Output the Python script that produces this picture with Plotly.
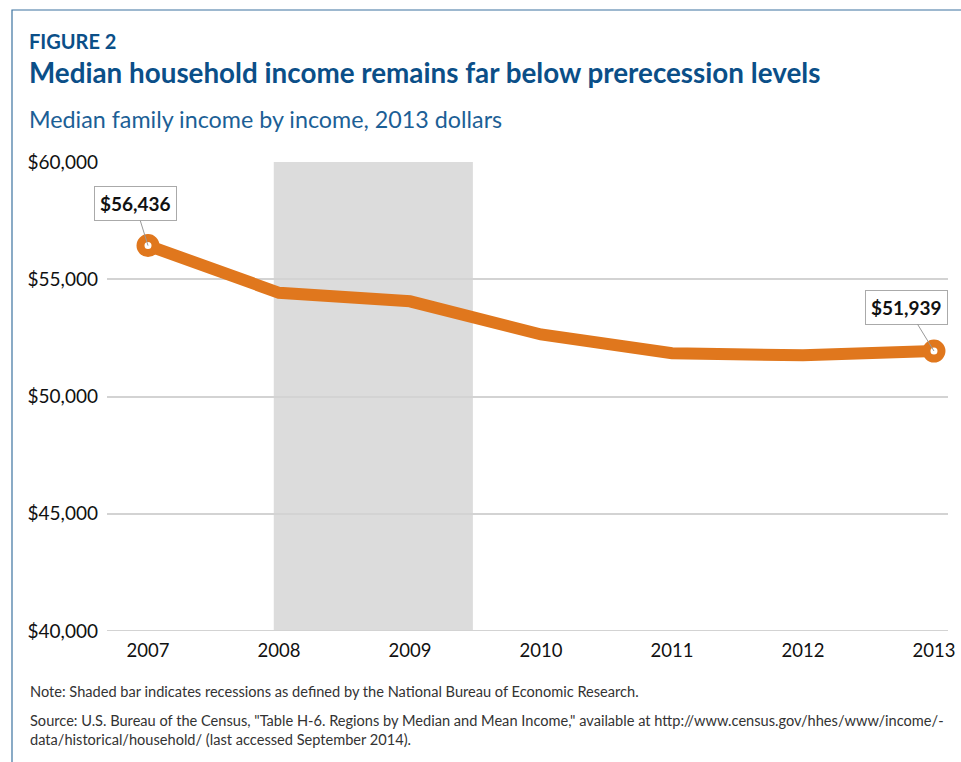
import plotly.graph_objects as go

years = [2007, 2008, 2009, 2010, 2011, 2012, 2013]
income = [56436, 54423, 54059, 52646, 51842, 51759, 51939]
y_ticks = [40000, 45000, 50000, 55000, 60000]
y_tick_labels = ["$40,000", "$45,000", "$50,000", "$55,000", "$60,000"]
recession = [2007.96, 2009.48]
labels = ["$56,436", "$51,939"]

W, H = 961, 762
L, R, T, B = 107, 13, 162, 131
PW, PH = W - L - R, H - T - B


def px(x):
    return (x - L) / PW


def py(y):
    return (H - B - y) / PH


BLUE = "#0b4f88"
ORANGE = "#e0771d"
FONT = "Lato"
GRID = "#d3d3d3"

fig = go.Figure()

fig.add_shape(type="rect", xref="x", yref="paper", x0=recession[0], x1=recession[1],
              y0=0, y1=1, fillcolor="#dcdcdc", line=dict(width=0), layer="below")
# bottom gridline at the range edge
fig.add_shape(type="line", xref="paper", yref="y", x0=0, x1=1, y0=y_ticks[0], y1=y_ticks[0],
              line=dict(color=GRID, width=2), layer="below")

fig.add_trace(go.Scatter(
    x=years, y=income, mode="lines",
    line=dict(color=ORANGE, width=12), hoverinfo="skip", showlegend=False,
))
fig.add_trace(go.Scatter(
    x=[years[0], years[-1]], y=[income[0], income[-1]], mode="markers",
    marker=dict(symbol="circle", size=15, color="white",
                line=dict(color=ORANGE, width=8)),
    hoverinfo="skip", showlegend=False,
))

# outer frame
fig.add_shape(type="rect", xref="paper", yref="paper",
              x0=px(12), x1=px(990), y0=py(10), y1=py(790),
              line=dict(color="#3d73a0", width=1.2), fillcolor="rgba(0,0,0,0)")

ann = []
ann.append(dict(x=years[0], y=income[0], text="<b>" + labels[0] + "</b>",
                showarrow=True, arrowhead=0, arrowwidth=1, arrowcolor="#999999",
                ax=-13, ay=-42, bgcolor="white", bordercolor="#aaaaaa", borderwidth=1,
                borderpad=5, font=dict(family=FONT, size=19, color="#111111")))
ann.append(dict(x=years[-1], y=income[-1], text="<b>" + labels[1] + "</b>",
                showarrow=True, arrowhead=0, arrowwidth=1, arrowcolor="#999999",
                ax=-27, ay=-44, bgcolor="white", bordercolor="#aaaaaa", borderwidth=1,
                borderpad=5, font=dict(family=FONT, size=19, color="#111111")))

ann.append(dict(xref="paper", yref="paper", x=px(27), y=py(41), xanchor="left", yanchor="middle",
                text="<b>FIGURE 2</b>", showarrow=False,
                font=dict(family=FONT, size=20, color=BLUE)))
ann.append(dict(xref="paper", yref="paper", x=px(27), y=py(72), xanchor="left", yanchor="middle",
                text="<b>Median household income remains far below prerecession levels</b>",
                showarrow=False, font=dict(family=FONT, size=27.8, color=BLUE)))
ann.append(dict(xref="paper", yref="paper", x=px(27), y=py(119), xanchor="left", yanchor="middle",
                text="Median family income by income, 2013 dollars",
                showarrow=False, font=dict(family=FONT, size=23.3, color="#1c5f96")))
ann.append(dict(xref="paper", yref="paper", x=px(28), y=py(691), xanchor="left", yanchor="middle",
                text="Note: Shaded bar indicates recessions as defined by the National Bureau of Economic Research.",
                showarrow=False, font=dict(family=FONT, size=14.6, color="#333333")))
ann.append(dict(xref="paper", yref="paper", x=px(28), y=py(730), xanchor="left", yanchor="middle",
                align="left",
                text="Source: U.S. Bureau of the Census, \"Table H-6. Regions by Median and Mean Income,\" available at http://www.census.gov/hhes/www/income/-<br>data/historical/household/ (last accessed September 2014).",
                showarrow=False, font=dict(family=FONT, size=14.6, color="#333333")))

fig.update_layout(
    width=W, height=H, margin=dict(l=L, r=R, t=T, b=B, autoexpand=False),
    paper_bgcolor="white", plot_bgcolor="white",
    annotations=ann, showlegend=False,
    font=dict(family=FONT),
)
fig.update_xaxes(range=[2006.687, 2013.107], tickvals=years, ticktext=[str(y) for y in years],
                 showgrid=False, zeroline=False, showline=False, ticks="", automargin=False,
                 ticklabeloverflow="allow",
                 tickfont=dict(family=FONT, size=18.5, color="#111111"), ticklabelstandoff=6)
fig.update_yaxes(range=[40000, 60000], tickvals=y_ticks, ticktext=y_tick_labels,
                 showgrid=True, gridcolor=GRID, gridwidth=2, zeroline=False,
                 showline=False, ticks="", automargin=False,
                 tickfont=dict(family=FONT, size=19, color="#111111"), ticklabelstandoff=8)

fig.write_html("out.html")
